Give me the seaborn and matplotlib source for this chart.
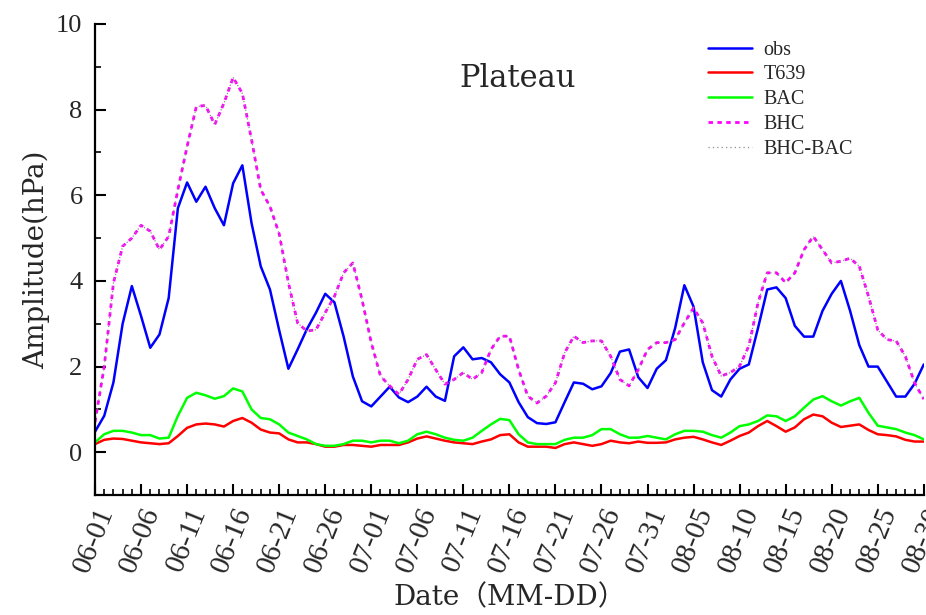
import numpy as np
import pandas as pd
import matplotlib
matplotlib.use("Agg")
import matplotlib.pyplot as plt
import seaborn as sns
from matplotlib.ticker import MultipleLocator

# ---- data (daily, 06-01 .. 08-30) ----
days = list(range(91))
tick_labels = ["06-01", "06-06", "06-11", "06-16", "06-21", "06-26", "07-01",
               "07-06", "07-11", "07-16", "07-21", "07-26", "07-31", "08-05",
               "08-10", "08-15", "08-20", "08-25", "08-30"]

obs = [0.48, 0.85, 1.63, 3.0, 3.88, 3.18, 2.44, 2.75, 3.6, 5.7,
       6.3, 5.85, 6.2, 5.7, 5.3, 6.28, 6.7, 5.35, 4.34, 3.8,
       2.85, 1.95, 2.4, 2.87, 3.26, 3.7, 3.5, 2.7, 1.77, 1.19,
       1.07, 1.3, 1.53, 1.28, 1.17, 1.3, 1.53, 1.3, 1.2, 2.24,
       2.45, 2.17, 2.2, 2.1, 1.82, 1.63, 1.17, 0.82, 0.68, 0.66,
       0.7, 1.17, 1.63, 1.6, 1.47, 1.54, 1.85, 2.35, 2.4, 1.75,
       1.5, 1.95, 2.15, 2.9, 3.9, 3.4, 2.1, 1.45, 1.3, 1.7,
       1.95, 2.05, 2.9, 3.8, 3.85, 3.6, 2.95, 2.7, 2.7, 3.3,
       3.7, 4.0, 3.3, 2.5, 2.0, 2.0, 1.65, 1.3, 1.3, 1.6,
       2.05]

t639 = [0.19, 0.29, 0.32, 0.31, 0.27, 0.23, 0.21, 0.19, 0.21, 0.38,
        0.57, 0.65, 0.67, 0.65, 0.6, 0.73, 0.8, 0.69, 0.53, 0.46,
        0.44, 0.3, 0.23, 0.23, 0.19, 0.13, 0.13, 0.17, 0.17, 0.15,
        0.13, 0.17, 0.17, 0.17, 0.23, 0.32, 0.37, 0.32, 0.27, 0.23,
        0.21, 0.19, 0.25, 0.3, 0.4, 0.42, 0.23, 0.13, 0.13, 0.13,
        0.1, 0.19, 0.23, 0.19, 0.15, 0.19, 0.27, 0.23, 0.21, 0.25,
        0.22, 0.22, 0.23, 0.3, 0.34, 0.36, 0.3, 0.23, 0.17, 0.27,
        0.38, 0.46, 0.61, 0.73, 0.61, 0.48, 0.58, 0.77, 0.88, 0.84,
        0.69, 0.59, 0.62, 0.65, 0.52, 0.42, 0.4, 0.37, 0.29, 0.25,
        0.25]

bac = [0.23, 0.42, 0.5, 0.5, 0.46, 0.4, 0.4, 0.32, 0.34, 0.85,
       1.27, 1.39, 1.33, 1.25, 1.31, 1.49, 1.42, 1.0, 0.8, 0.77,
       0.65, 0.46, 0.38, 0.3, 0.19, 0.15, 0.15, 0.19, 0.27, 0.27,
       0.23, 0.27, 0.27, 0.21, 0.27, 0.42, 0.48, 0.42, 0.34, 0.29,
       0.27, 0.34, 0.5, 0.65, 0.78, 0.75, 0.42, 0.23, 0.19, 0.19,
       0.19, 0.29, 0.34, 0.34, 0.4, 0.54, 0.54, 0.42, 0.34, 0.34,
       0.38, 0.34, 0.3, 0.42, 0.5, 0.5, 0.48, 0.4, 0.34, 0.46,
       0.61, 0.65, 0.73, 0.86, 0.84, 0.73, 0.84, 1.04, 1.23, 1.31,
       1.19, 1.09, 1.19, 1.27, 0.92, 0.62, 0.58, 0.54, 0.46, 0.4,
       0.3]

bhc = [0.7, 2.0, 3.95, 4.81, 5.0, 5.3, 5.16, 4.73, 5.04, 6.13,
       7.14, 8.07, 8.1, 7.65, 8.15, 8.75, 8.38, 7.3, 6.13, 5.74,
       5.1, 3.96, 3.02, 2.83, 2.86, 3.26, 3.64, 4.19, 4.42, 3.56,
       2.56, 1.78, 1.55, 1.35, 1.7, 2.17, 2.28, 1.93, 1.59, 1.7,
       1.86, 1.7, 1.86, 2.4, 2.71, 2.71, 1.93, 1.31, 1.15, 1.31,
       1.62, 2.32, 2.71, 2.56, 2.6, 2.6, 2.24, 1.7, 1.55, 1.93,
       2.4, 2.56, 2.56, 2.63, 3.02, 3.37, 3.02, 2.24, 1.78, 1.86,
       2.01, 2.48, 3.49, 4.19, 4.19, 3.96, 4.19, 4.73, 5.04, 4.73,
       4.42, 4.46, 4.53, 4.34, 3.64, 2.86, 2.63, 2.6, 2.24, 1.62,
       1.24]

bhc_bac = [0.7, 2.0, 3.95, 4.81, 5.0, 5.3, 5.16, 4.73, 5.04, 6.13,
           7.14, 8.07, 8.1, 7.65, 8.15, 8.75, 8.38, 7.3, 6.13, 5.74,
           5.1, 3.96, 3.02, 2.83, 2.86, 3.26, 3.64, 4.19, 4.42, 3.56,
           2.56, 1.78, 1.55, 1.35, 1.7, 2.17, 2.28, 1.93, 1.59, 1.7,
           1.86, 1.7, 1.86, 2.4, 2.71, 2.71, 1.93, 1.31, 1.15, 1.31,
           1.62, 2.32, 2.71, 2.56, 2.6, 2.6, 2.24, 1.7, 1.55, 1.93,
           2.4, 2.56, 2.56, 2.63, 3.02, 3.37, 3.02, 2.24, 1.78, 1.86,
           2.01, 2.48, 3.49, 4.19, 4.19, 3.96, 4.19, 4.73, 5.04, 4.73,
           4.42, 4.46, 4.53, 4.34, 3.64, 2.86, 2.63, 2.6, 2.24, 1.62,
           1.24]

# ---- plotting ----
sns.set_theme(style="white")
plt.rcParams["font.family"] = ["Liberation Serif", "Noto Sans CJK SC", "DejaVu Sans"]
label_font = ["DejaVu Serif", "Noto Sans CJK SC"]

fig = plt.figure(figsize=(9.26, 6.15), dpi=100)
ax = fig.add_axes([0.1026, 0.195, 0.895, 0.766])

series = [
    ("obs", obs, "#0000ff", "-", 1.8),
    ("T639", t639, "#ff0000", "-", 1.8),
    ("BAC", bac, "#00ff00", "-", 1.8),
    ("BHC", bhc, "#ff00ff", (0, (1.6, 1.6)), 2.0),
    ("BHC-BAC", bhc_bac, "#8c8c8c", (0, (1, 2.5)), 0.9),
]
for name, vals, color, ls, lw in series:
    sns.lineplot(x=days, y=vals, color=color, linestyle=ls, linewidth=lw,
                 label=name, ax=ax)

ax.set_xlim(0, 90)
ax.set_ylim(-1, 10)
ax.set_xticks(range(0, 91, 5))
ax.set_xticklabels(tick_labels, rotation=68, ha="right", va="top",
                   rotation_mode="anchor", fontsize=21)
ax.xaxis.set_minor_locator(MultipleLocator(1))
ax.set_yticks([0, 2, 4, 6, 8, 10])
ax.yaxis.set_minor_locator(MultipleLocator(1))
ax.tick_params(axis="y", labelsize=19, pad=9)
ax.tick_params(axis="x", pad=6)
ax.tick_params(which="both", direction="in", color="black", bottom=True, left=True)
ax.tick_params(which="major", length=8, width=1.5)
ax.tick_params(which="minor", length=4, width=1.2)

for s in ["top", "right"]:
    ax.spines[s].set_visible(False)
for s in ["left", "bottom"]:
    ax.spines[s].set_color("black")
    ax.spines[s].set_linewidth(1.6)

ax.set_ylabel("Amplitude(hPa)", fontsize=20, family=label_font, labelpad=4)
ax.set_xlabel("Date（MM-DD）", fontsize=20, family=label_font, labelpad=6)

ax.text(0.51, 0.885, "Plateau", transform=ax.transAxes, ha="center",
        va="center", fontsize=22, family=label_font)

ax.legend(loc="upper left", bbox_to_anchor=(0.730, 0.982), frameon=False,
          fontsize=14.5, handlelength=2.2, labelspacing=0.28, handletextpad=0.55,
          borderaxespad=0)

fig.savefig("out.png", dpi=100)
